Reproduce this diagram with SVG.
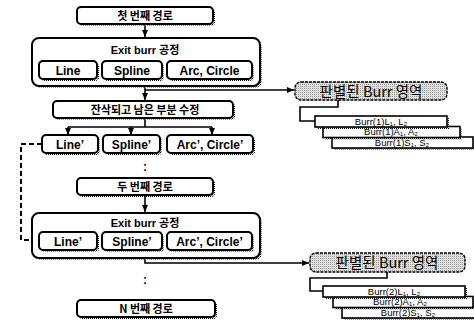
<svg xmlns="http://www.w3.org/2000/svg" width="474" height="320" viewBox="0 0 474 320">
<style>
.box{fill:#fff;stroke:#000;stroke-width:2}
.sh{fill:url(#dots);stroke:none}
.gbox{fill:url(#gray);stroke:#000;stroke-width:1.4;stroke-dasharray:3 1}
.sbox{fill:#fff;stroke:#000;stroke-width:1.6}
.kt{font-family:"Noto Sans CJK KR","Liberation Sans",sans-serif;font-weight:bold;font-size:11px;text-anchor:middle;fill:#000}
.lt{font-family:"Liberation Sans","Noto Sans CJK KR",sans-serif;font-weight:bold;font-size:12px;text-anchor:middle;fill:#000}
.gt{font-family:"Noto Sans CJK KR","Liberation Sans",sans-serif;font-size:14.5px;text-anchor:middle;fill:#000}
.bt{font-family:"Liberation Sans","DejaVu Sans",sans-serif;font-size:9.5px;text-anchor:middle;fill:#000}
.ln{fill:none;stroke:#000;stroke-width:1.6}
.ar{marker-end:url(#ah)}
.dash{stroke-dasharray:5 3;stroke-width:2}
</style>
<defs>
<pattern id="dots" width="2" height="2" patternUnits="userSpaceOnUse"><rect width="1" height="1" fill="#000"/><rect x="1" y="1" width="1" height="1" fill="#888"/></pattern>
<pattern id="gray" width="2" height="2" patternUnits="userSpaceOnUse"><rect width="2" height="2" fill="#e0e0e0"/><rect width="1" height="1" fill="#9a9a9a"/></pattern>
<marker id="ah" markerWidth="7" markerHeight="6" refX="7" refY="3" orient="auto" markerUnits="userSpaceOnUse"><path d="M0,0 L7,3 L0,6 z" fill="#000"/></marker>
</defs>

<g id="connectors">
<path class="ln ar" d="M145 24 V37"/>
<path class="ln ar" d="M145 86 V100"/>
<path class="ln ar" d="M145 90 H294"/>
<path class="ln" d="M145 118 V127 M68 127 H212"/>
<path class="ln ar" d="M68 127 V135"/>
<path class="ln ar" d="M131 127 V135"/>
<path class="ln ar" d="M212 127 V135"/>
<path class="ln ar" d="M145 195 V212"/>
<path class="ln ar" d="M145 258 V263 H309"/>
<path class="ln dash ar" d="M42 144 H21 V240 H38"/>
<path class="ln" d="M338 100 V107 H300 V121 H315"/>
<path class="ln" d="M387 272 V278 H310 V291 H323"/>
</g>

<g id="n1">
<rect class="sh" x="79" y="9" width="136" height="17" rx="4"/>
<rect class="box" x="77" y="7" width="136" height="17" rx="4"/>
<text class="kt" x="145" y="20">첫 번째 경로</text>
</g>

<g id="n2">
<rect class="sh" x="34" y="40" width="228" height="48" rx="7"/>
<rect class="box" x="32" y="38" width="228" height="48" rx="7"/>
<text class="kt" x="145" y="54"><tspan font-family="Liberation Sans">Exit burr </tspan>공정</text>
<g id="n2a">
<rect class="sh" x="41" y="63" width="58" height="18" rx="4"/>
<rect class="box" x="39" y="61" width="58" height="18" rx="4"/>
<text class="lt" x="68" y="74.5">Line</text>
</g>
<g id="n2b">
<rect class="sh" x="104" y="63" width="60" height="18" rx="4"/>
<rect class="box" x="102" y="61" width="60" height="18" rx="4"/>
<text class="lt" x="132" y="74.5">Spline</text>
</g>
<g id="n2c">
<rect class="sh" x="169" y="63" width="85" height="18" rx="4"/>
<rect class="box" x="167" y="61" width="85" height="18" rx="4"/>
<text class="lt" x="209.5" y="74.5">Arc, Circle</text>
</g>
</g>

<g id="n3">
<rect class="gbox" x="295" y="82" width="152" height="18" rx="6"/>
<text class="gt" x="371" y="96.5">판별된 Burr 영역</text>
</g>

<g id="n4">
<rect class="sh" x="334" y="139" width="141" height="11"/>
<rect class="sbox" x="332" y="137" width="141" height="11"/>
<text class="bt" x="402" y="145.7">Burr(1)S₁, S₂</text>
<rect class="sh" x="325" y="128.5" width="137" height="11"/>
<rect class="sbox" x="323" y="126.5" width="137" height="11"/>
<text class="bt" x="391" y="135.2">Burr(1)A₁, A₂</text>
<rect class="sh" x="317" y="118" width="132" height="11"/>
<rect class="sbox" x="315" y="116" width="132" height="11"/>
<text class="bt" x="381" y="124.7">Burr(1)L₁, L₂</text>
</g>

<g id="n5">
<rect class="sh" x="55" y="103" width="180" height="17" rx="4"/>
<rect class="box" x="53" y="101" width="180" height="17" rx="4"/>
<text class="kt" x="145" y="114" font-size="12">잔삭되고 남은 부분 수정</text>
</g>

<g id="n6">
<g id="n6a">
<rect class="sh" x="44" y="137" width="56" height="18" rx="4"/>
<rect class="box" x="42" y="135" width="56" height="18" rx="4"/>
<text class="lt" x="70" y="148.5">Line’</text>
</g>
<g id="n6b">
<rect class="sh" x="105" y="137" width="57" height="18" rx="4"/>
<rect class="box" x="103" y="135" width="57" height="18" rx="4"/>
<text class="lt" x="131.5" y="148.5">Spline’</text>
</g>
<g id="n6c">
<rect class="sh" x="169" y="137" width="86" height="18" rx="4"/>
<rect class="box" x="167" y="135" width="86" height="18" rx="4"/>
<text class="lt" x="210" y="148.5">Arc’, Circle’</text>
</g>
</g>

<text class="lt" x="145" y="171" font-size="10">:</text>

<g id="n7">
<rect class="sh" x="79" y="180" width="136" height="17" rx="4"/>
<rect class="box" x="77" y="178" width="136" height="17" rx="4"/>
<text class="kt" x="145" y="191">두 번째 경로</text>
</g>

<g id="n8">
<rect class="sh" x="34" y="215" width="228" height="45" rx="7"/>
<rect class="box" x="32" y="213" width="228" height="45" rx="7"/>
<text class="kt" x="145" y="227"><tspan font-family="Liberation Sans">Exit burr </tspan>공정</text>
<g id="n8a">
<rect class="sh" x="41" y="234" width="58" height="18" rx="4"/>
<rect class="box" x="39" y="232" width="58" height="18" rx="4"/>
<text class="lt" x="68" y="245.5">Line’</text>
</g>
<g id="n8b">
<rect class="sh" x="104" y="234" width="60" height="18" rx="4"/>
<rect class="box" x="102" y="232" width="60" height="18" rx="4"/>
<text class="lt" x="132" y="245.5">Spline’</text>
</g>
<g id="n8c">
<rect class="sh" x="169" y="234" width="85" height="18" rx="4"/>
<rect class="box" x="167" y="232" width="85" height="18" rx="4"/>
<text class="lt" x="209.5" y="245.5">Arc’, Circle’</text>
</g>
</g>

<g id="n9">
<rect class="gbox" x="310" y="253" width="155" height="19" rx="6"/>
<text class="gt" x="387" y="268">판별된 Burr 영역</text>
</g>

<g id="n10">
<rect class="sh" x="344" y="309" width="134" height="11"/>
<rect class="sbox" x="342" y="307" width="134" height="11"/>
<text class="bt" x="408" y="315.7">Burr(2)S₁, S₂</text>
<rect class="sh" x="335" y="298.5" width="140" height="11"/>
<rect class="sbox" x="333" y="296.5" width="140" height="11"/>
<text class="bt" x="400" y="305.2">Burr(2)A₁, A₂</text>
<rect class="sh" x="325" y="288" width="142" height="11"/>
<rect class="sbox" x="323" y="286" width="142" height="11"/>
<text class="bt" x="394" y="294.7">Burr(2)L₁, L₂</text>
</g>

<text class="lt" x="145" y="284" font-size="10">:</text>

<g id="n11">
<rect class="sh" x="79" y="302" width="138" height="17" rx="4"/>
<rect class="box" x="77" y="300" width="138" height="17" rx="4"/>
<text class="kt" x="146" y="313">N 번째 경로</text>
</g>
</svg>
